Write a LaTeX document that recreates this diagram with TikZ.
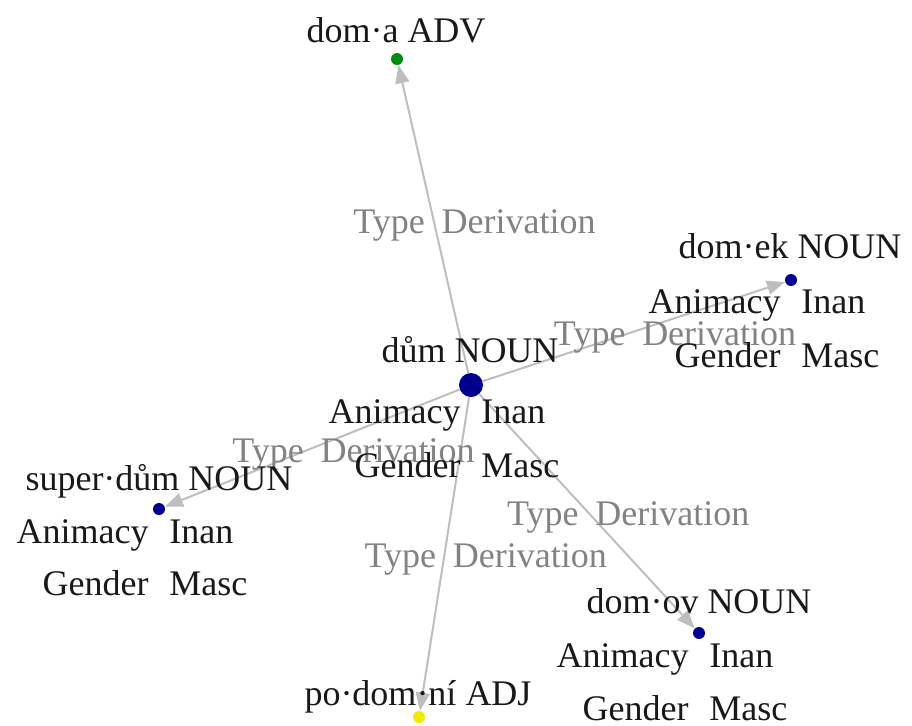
\documentclass[tikz,border=0pt]{standalone}
\usepackage{fontspec}
\setmainfont{Liberation Serif}
\usetikzlibrary{arrows.meta}

\definecolor{dotblue}{RGB}{0,0,140}
\definecolor{dotgreen}{RGB}{0,140,20}
\definecolor{dotyellow}{RGB}{240,235,0}
\definecolor{edgegray}{RGB}{190,190,190}
\definecolor{labelgray}{RGB}{130,130,130}

\tikzset{
  word/.style={inner sep=0pt,text=black!90,font=\fontsize{18}{20}\selectfont},
  key/.style={word,anchor=base east},
  val/.style={word,anchor=base west},
  dot/.style={circle,inner sep=0pt,minimum size=6pt,fill=dotblue},
  deriv/.style={draw=edgegray,line width=1pt,-{Triangle[length=9pt,width=7pt,fill=edgegray]}},
  etext/.style={inner sep=0pt,text=labelgray,font=\fontsize{18}{20}\selectfont}
}

\begin{document}
\begin{tikzpicture}[x=0.5pt,y=-0.5pt]
%
	\useasboundingbox (0,0) rectangle (912,725);
%
	\node[dot,minimum size=12pt] (dum) at (471,385) {};
	\node[dot,fill=dotgreen] (doma) at (397,59) {};
	\node[dot] (domek) at (791,280) {};
	\node[dot] (superdum) at (159,509) {};
	\node[dot,fill=dotyellow] (podomni) at (419,717) {};
	\node[dot] (domov) at (699,633) {};
%
	\draw[deriv] (dum) -- (doma) coordinate[pos=.5] (m1);
	\draw[deriv] (dum) -- (domek) coordinate[pos=.5] (m2);
	\draw[deriv] (dum) -- (superdum) coordinate[pos=.5] (m3);
	\draw[deriv] (dum) -- (podomni) coordinate[pos=.5] (m4);
	\draw[deriv] (dum) -- (domov) coordinate[pos=.5] (m5);
%
	\foreach \m in {m1,m2,m3,m4,m5} {
		\node[etext,anchor=base east] at ([shift={(-8,14)}]\m) {Type};
		\node[etext,anchor=base west] at ([shift={(8,14)}]\m) {Derivation};
	}
%
	\node[word,anchor=base] (dumtitle) at ([shift={(-1,-23)}]dum) {dům NOUN};
	\node[key] (dumkey1) at ([shift={(-10,38)}]dum) {Animacy};
	\node[val] (dumval1) at ([shift={(10,38)}]dum) {Inan};
	\node[key] (dumkey2) at ([shift={(-10,92)}]dum) {Gender};
	\node[val] (dumval2) at ([shift={(10,92)}]dum) {Masc};
%
	\node[word,anchor=base] (domatitle) at ([shift={(-1,-17)}]doma) {dom·a ADV};
%
	\node[word,anchor=base] (domektitle) at ([shift={(-1,-22)}]domek) {dom·ek NOUN};
	\node[key] (domekkey1) at ([shift={(-10,33)}]domek) {Animacy};
	\node[val] (domekval1) at ([shift={(10,33)}]domek) {Inan};
	\node[key] (domekkey2) at ([shift={(-10,87)}]domek) {Gender};
	\node[val] (domekval2) at ([shift={(10,87)}]domek) {Masc};
%
	\node[word,anchor=base] (superdumtitle) at ([shift={(0,-19)}]superdum) {super·dům NOUN};
	\node[key] (superdumkey1) at ([shift={(-10,34)}]superdum) {Animacy};
	\node[val] (superdumval1) at ([shift={(10,34)}]superdum) {Inan};
	\node[key] (superdumkey2) at ([shift={(-10,86)}]superdum) {Gender};
	\node[val] (superdumval2) at ([shift={(10,86)}]superdum) {Masc};
%
	\node[word,anchor=base] (podomnititle) at ([shift={(-1,-12)}]podomni) {po·dom·ní ADJ};
%
	\node[word,anchor=base] (domovtitle) at ([shift={(0,-20)}]domov) {dom·ov NOUN};
	\node[key] (domovkey1) at ([shift={(-10,34)}]domov) {Animacy};
	\node[val] (domovval1) at ([shift={(10,34)}]domov) {Inan};
	\node[key] (domovkey2) at ([shift={(-10,87)}]domov) {Gender};
	\node[val] (domovval2) at ([shift={(10,87)}]domov) {Masc};
\end{tikzpicture}
\end{document}
